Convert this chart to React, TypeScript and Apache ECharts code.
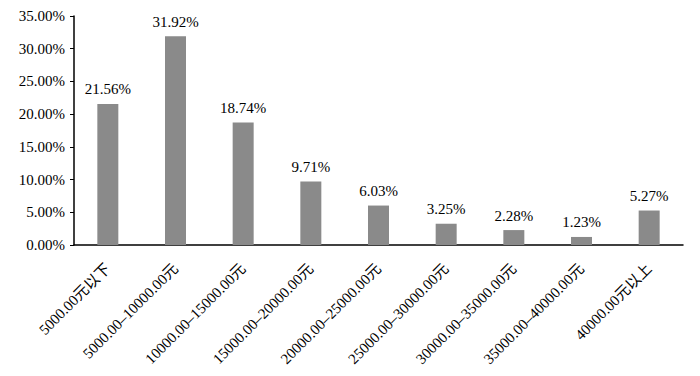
import React, { useEffect, useRef } from "react";
import * as echarts from "echarts";

const categories = [
  "5000.00元以下",
  "5000.00–10000.00元",
  "10000.00–15000.00元",
  "15000.00–20000.00元",
  "20000.00–25000.00元",
  "25000.00–30000.00元",
  "30000.00–35000.00元",
  "35000.00–40000.00元",
  "40000.00元以上",
];
const values = [21.56, 31.92, 18.74, 9.71, 6.03, 3.25, 2.28, 1.23, 5.27];
const yTicks = { min: 0, max: 35, interval: 5 };

const FONT = "Liberation Serif, Noto Sans CJK SC, serif";

export default function App() {
  const ref = useRef<HTMLDivElement>(null);
  useEffect(() => {
    if (!ref.current) return;
    const chart = echarts.init(ref.current, undefined, { renderer: "svg" });
    chart.setOption({
      animation: false,
      backgroundColor: "#ffffff",
      grid: { left: 74, right: 17, top: 16, bottom: 131, containLabel: false },
      xAxis: {
        type: "category",
        data: categories,
        axisLine: { lineStyle: { color: "#000", width: 1.5 } },
        axisTick: { show: false },
        axisLabel: {
          rotate: 45,
          interval: 0,
          margin: 21,
          color: "#000",
          fontFamily: FONT,
          fontSize: 15,
        },
      },
      yAxis: {
        type: "value",
        min: yTicks.min,
        max: yTicks.max,
        interval: yTicks.interval,
        splitLine: { show: false },
        axisLine: { show: true, lineStyle: { color: "#000", width: 1.5 } },
        axisTick: { show: true, length: 4, lineStyle: { color: "#000" } },
        axisLabel: {
          color: "#000",
          fontFamily: FONT,
          fontSize: 15,
          margin: 9,
          formatter: (v: number) => v.toFixed(2) + "%",
        },
      },
      series: [
        {
          type: "bar",
          data: values,
          barWidth: 21,
          itemStyle: { color: "#8a8a8a" },
          label: {
            show: true,
            position: "top",
            distance: 7,
            color: "#000",
            fontFamily: FONT,
            fontSize: 15,
            formatter: (p: any) => p.value.toFixed(2) + "%",
          },
        },
      ],
    });
    return () => chart.dispose();
  }, []);
  return <div ref={ref} style={{ width: 700, height: 376, position: "absolute", left: 0, top: 0 }} />;
}
